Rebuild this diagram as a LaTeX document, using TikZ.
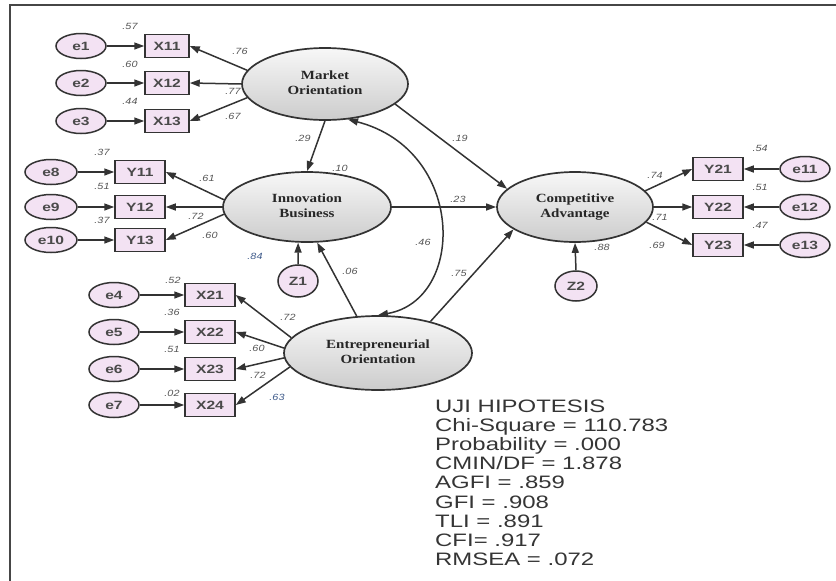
\documentclass[tikz,border=0pt]{standalone}
\usepackage{fontspec}
\setmainfont{Liberation Serif}
\setsansfont{Liberation Sans}
\usepackage{graphicx}
\usetikzlibrary{arrows.meta,shapes.geometric}
\definecolor{obsfill}{HTML}{F3E2F3}
\definecolor{edgec}{HTML}{333333}
\definecolor{txtc}{HTML}{4A4A4A}
\definecolor{numc}{HTML}{555555}
\definecolor{bluenum}{HTML}{3E5A8A}
\definecolor{statc}{HTML}{353535}
\newcommand\sx[2]{\scalebox{#1}[1]{#2}}
\newcommand\lat[2]{\sx{1.2}{\begin{tabular}{@{}c@{}}#1\\#2\end{tabular}}}
\begin{document}
\begin{tikzpicture}[x=1pt,y=-1pt,
 latent/.style={ellipse, draw=edgec, line width=1.7pt, top color=gray!6, bottom color=gray!40, inner sep=0, font=\fontsize{12.5}{15.5}\selectfont\bfseries, text=black!85},
 obs/.style={rectangle, draw=edgec, line width=1.5pt, fill=obsfill, minimum width=50pt, minimum height=23pt, inner sep=0, font=\sffamily\bfseries\fontsize{12}{13}\selectfont, text=txtc},
 err/.style={ellipse, draw=edgec, line width=1.5pt, fill=obsfill, minimum width=50pt, minimum height=25pt, inner sep=0, font=\sffamily\bfseries\fontsize{12}{13}\selectfont, text=txtc},
 arr/.style={draw=edgec, line width=1.5pt, -{Triangle[length=10pt,width=7pt]}},
 dbl/.style={draw=edgec, line width=1.5pt, {Triangle[length=10pt,width=7pt]}-{Triangle[length=10pt,width=7pt]}},
 lab/.style={inner sep=0, font=\sffamily\itshape\fontsize{9}{10}\selectfont, text=numc},
]
\useasboundingbox (0,0) rectangle (836,581);
\draw[line width=2pt, gray!55!black] (10,581) -- (10,5) -- (836,5);

% latent variables
\node[latent, minimum width=166pt, minimum height=72pt] (MO) at (325,84) {\lat{Market}{Orientation}};
\node[latent, minimum width=168pt, minimum height=70pt] (IB) at (307,207) {\lat{Innovation}{Business}};
\node[latent, minimum width=156pt, minimum height=70pt] (CA) at (575,207) {\lat{Competitive}{Advantage}};
\node[latent, minimum width=188pt, minimum height=74pt] (EO) at (378,353) {\lat{Entrepreneurial}{Orientation}};

% observed
\node[obs, minimum width=44pt] (X11) at (167,46) {\sx{1.3}{X11}};
\node[obs, minimum width=44pt] (X12) at (167,83) {\sx{1.3}{X12}};
\node[obs, minimum width=44pt] (X13) at (167,121) {\sx{1.3}{X13}};
\node[obs] (Y11) at (140,172) {\sx{1.3}{Y11}};
\node[obs] (Y12) at (140,207) {\sx{1.3}{Y12}};
\node[obs] (Y13) at (140,240) {\sx{1.3}{Y13}};
\node[obs] (X21) at (210,295) {\sx{1.3}{X21}};
\node[obs] (X22) at (210,332) {\sx{1.3}{X22}};
\node[obs] (X23) at (210,369) {\sx{1.3}{X23}};
\node[obs] (X24) at (210,405) {\sx{1.3}{X24}};
\node[obs] (Y21) at (718,169) {\sx{1.3}{Y21}};
\node[obs] (Y22) at (718,207) {\sx{1.3}{Y22}};
\node[obs] (Y23) at (718,245) {\sx{1.3}{Y23}};

% errors
\node[err] (e1) at (81,46) {\sx{1.3}{e1}};
\node[err] (e2) at (81,83) {\sx{1.3}{e2}};
\node[err] (e3) at (81,121) {\sx{1.3}{e3}};
\node[err, minimum width=52pt] (e8) at (51,172) {\sx{1.3}{e8}};
\node[err, minimum width=52pt] (e9) at (51,207) {\sx{1.3}{e9}};
\node[err, minimum width=52pt] (e10) at (51,240) {\sx{1.3}{e10}};
\node[err] (e4) at (114,295) {\sx{1.3}{e4}};
\node[err] (e5) at (114,332) {\sx{1.3}{e5}};
\node[err] (e6) at (114,369) {\sx{1.3}{e6}};
\node[err] (e7) at (114,405) {\sx{1.3}{e7}};
\node[err, minimum width=50pt] (e11) at (805,169) {\sx{1.3}{e11}};
\node[err, minimum width=50pt] (e12) at (805,207) {\sx{1.3}{e12}};
\node[err, minimum width=50pt] (e13) at (805,245) {\sx{1.3}{e13}};
\node[err, minimum width=40pt, minimum height=32pt] (Z1) at (298,281) {\sx{1.3}{Z1}};
\node[err, minimum width=42pt, minimum height=30pt] (Z2) at (576,286) {\sx{1.3}{Z2}};

% error arrows
\foreach \e/\o in {e1/X11,e2/X12,e3/X13,e8/Y11,e9/Y12,e10/Y13,e4/X21,e5/X22,e6/X23,e7/X24,e11/Y21,e12/Y22,e13/Y23}
  \draw[arr] (\e) -- (\o);

% loadings
\draw[arr] (MO.170) -- (X11.east);
\draw[arr] (MO.180) -- (X12.east);
\draw[arr] (MO.190) -- (X13.east);
\draw[arr] (IB.175) -- (Y11.east);
\draw[arr] (IB.180) -- (Y12.east);
\draw[arr] (IB.185) -- (Y13.east);
\draw[arr] (EO.170) -- (X21.east);
\draw[arr] (EO.177) -- (X22.east);
\draw[arr] (EO.183) -- (X23.east);
\draw[arr] (EO.189) -- (X24.east);
\draw[arr] (CA.13) -- (Y21.west);
\draw[arr] (CA.0) -- (Y22.west);
\draw[arr] (CA.-12) -- (Y23.west);

% structural paths
\draw[arr] (MO.south) -- (IB.north);
\draw[arr] (MO.-16) -- (CA.165);
\draw[arr] (IB.east) -- (CA.west);
\draw[arr] (EO.31) -- (CA.200);
\draw[arr] (EO.120) -- (IB.-74);
\draw[arr] (Z1.north) -- (IB.-104);
\draw[arr] (Z2.north) -- (CA.south);
\draw[dbl] (MO.-57) .. controls (466,150) and (466,300) .. (EO.north);

% coefficient labels
\node[lab] (l1) at (130,26) {\sx{1.2}{.57}};
\node[lab] (l2) at (130,64) {\sx{1.2}{.60}};
\node[lab] (l3) at (130,101) {\sx{1.2}{.44}};
\node[lab] (l4) at (240,51) {\sx{1.2}{.76}};
\node[lab] (l5) at (233,91) {\sx{1.2}{.77}};
\node[lab] (l6) at (233,116) {\sx{1.2}{.67}};
\node[lab] (l7) at (303,138) {\sx{1.2}{.29}};
\node[lab] (l8) at (340,168) {\sx{1.2}{.10}};
\node[lab] (l9) at (460,138) {\sx{1.2}{.19}};
\node[lab] (l10) at (458,199) {\sx{1.2}{.23}};
\node[lab] (l11) at (423,242) {\sx{1.2}{.46}};
\node[lab] (l12) at (459,273) {\sx{1.2}{.75}};
\node[lab] (l13) at (350,271) {\sx{1.2}{.06}};
\node[lab, text=bluenum] (l14) at (255,256) {\sx{1.2}{.84}};
\node[lab] (l15) at (102,152) {\sx{1.2}{.37}};
\node[lab] (l16) at (102,186) {\sx{1.2}{.51}};
\node[lab] (l17) at (102,220) {\sx{1.2}{.37}};
\node[lab] (l18) at (207,178) {\sx{1.2}{.61}};
\node[lab] (l19) at (196,216) {\sx{1.2}{.72}};
\node[lab] (l20) at (210,235) {\sx{1.2}{.60}};
\node[lab] (l21) at (173,280) {\sx{1.2}{.52}};
\node[lab] (l22) at (172,312) {\sx{1.2}{.36}};
\node[lab] (l23) at (172,349) {\sx{1.2}{.51}};
\node[lab] (l24) at (172,393) {\sx{1.2}{.02}};
\node[lab] (l25) at (288,317) {\sx{1.2}{.72}};
\node[lab] (l26) at (257,348) {\sx{1.2}{.60}};
\node[lab] (l27) at (258,375) {\sx{1.2}{.72}};
\node[lab, text=bluenum] (l28) at (277,397) {\sx{1.2}{.63}};
\node[lab] (l29) at (655,175) {\sx{1.2}{.74}};
\node[lab] (l30) at (660,217) {\sx{1.2}{.71}};
\node[lab] (l31) at (657,245) {\sx{1.2}{.69}};
\node[lab] (l32) at (760,148) {\sx{1.2}{.54}};
\node[lab] (l33) at (760,187) {\sx{1.2}{.51}};
\node[lab] (l34) at (760,225) {\sx{1.2}{.47}};
\node[lab] (l35) at (602,247) {\sx{1.2}{.88}};

% fit statistics
\node[inner sep=0, anchor=base west, text=statc, font=\sffamily\fontsize{18}{19.2}\selectfont] (stats) at (435,412)
 {\sx{1.33}{\begin{tabular}[t]{@{}l@{}}UJI HIPOTESIS\\Chi-Square = 110.783\\Probability = .000\\CMIN/DF = 1.878\\AGFI = .859\\GFI = .908\\TLI = .891\\CFI= .917\\RMSEA = .072\end{tabular}}};
\end{tikzpicture}
\end{document}
